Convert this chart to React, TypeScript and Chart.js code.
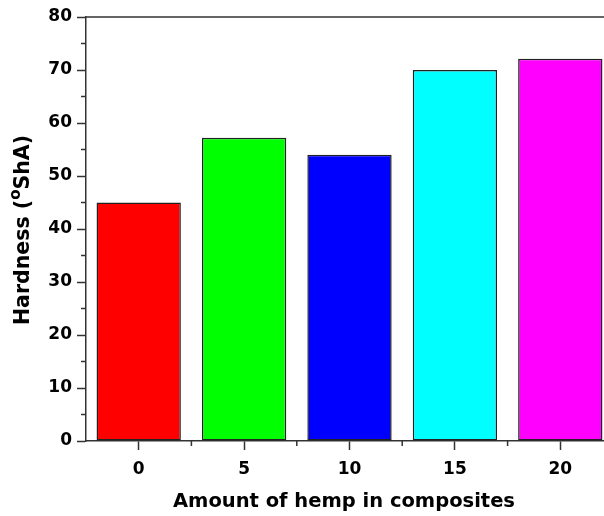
import React, { useEffect, useRef } from "react";
import { Chart, registerables } from "chart.js";

Chart.register(...registerables);

const categories = ["0", "5", "10", "15", "20"];
const hardness = [45, 57.2, 54, 70, 72.1];
const barColors = ["#ff0000", "#00ff00", "#0000ff", "#00ffff", "#ff00ff"];
const yMin = 0;
const yMax = 80;
const yStep = 10;
const xTitle = "Amount of hemp in composites";
const yTitleParts = ["Hardness (", "o", "ShA)"];

const CANVAS_W = 620;
const CANVAS_H = 516;
const AXIS_COLOR = "#333";
const FONT = '"DejaVu Sans", "Liberation Sans", Arial, sans-serif';

// Frame lines, minor ticks and the two axis titles
const decorations = {
  id: "decorations",
  afterDraw(chart: any) {
    const { ctx, chartArea } = chart;
    const { left, right, top, bottom } = chartArea;
    const xs = chart.scales.x;
    const ys = chart.scales.y;
    ctx.save();
    ctx.strokeStyle = AXIS_COLOR;
    ctx.lineWidth = 1.5;

    // top and right frame
    ctx.beginPath();
    ctx.moveTo(left, top);
    ctx.lineTo(right, top);
    ctx.lineTo(right, bottom);
    ctx.stroke();

    // minor ticks on y
    ctx.beginPath();
    for (let v = yMin + yStep / 2; v < yMax; v += yStep) {
      const y = ys.getPixelForValue(v);
      ctx.moveTo(left - 5, y);
      ctx.lineTo(left, y);
    }
    // minor ticks on x, between categories
    for (let i = 0; i < categories.length - 1; i++) {
      const x = (xs.getPixelForValue(i) + xs.getPixelForValue(i + 1)) / 2;
      ctx.moveTo(x, bottom);
      ctx.lineTo(x, bottom + 5);
    }
    ctx.stroke();

    // x title
    ctx.fillStyle = "#000";
    ctx.font = `bold 19.5px ${FONT}`;
    ctx.textAlign = "center";
    ctx.textBaseline = "alphabetic";
    ctx.fillText(xTitle, 344, 507);

    // y title with superscript
    ctx.translate(29, 230);
    ctx.rotate(-Math.PI / 2);
    ctx.textAlign = "left";
    const big = `bold 20.5px ${FONT}`;
    const small = `bold 15px ${FONT}`;
    ctx.font = big;
    const w0 = ctx.measureText(yTitleParts[0]).width;
    const w2 = ctx.measureText(yTitleParts[2]).width;
    ctx.font = small;
    const w1 = ctx.measureText(yTitleParts[1]).width;
    let x = -(w0 + w1 + w2) / 2;
    ctx.font = big;
    ctx.fillText(yTitleParts[0], x, 0);
    x += w0;
    ctx.font = small;
    ctx.fillText(yTitleParts[1], x, -9);
    x += w1;
    ctx.font = big;
    ctx.fillText(yTitleParts[2], x, 0);
    ctx.restore();
  },
};

export default function App() {
  const ref = useRef<HTMLCanvasElement | null>(null);

  useEffect(() => {
    if (!ref.current) return;
    const chart = new Chart(ref.current, {
      type: "bar",
      data: {
        labels: categories,
        datasets: [
          {
            data: hardness,
            backgroundColor: barColors,
            borderColor: "#222",
            borderWidth: 1.5,
            borderSkipped: false,
            categoryPercentage: 1,
            barPercentage: 0.8,
          },
        ],
      },
      options: {
        animation: false,
        responsive: false,
        devicePixelRatio: 1,
        layout: { padding: { top: 17, right: 7, left: 0, bottom: 0 } },
        plugins: {
          legend: { display: false },
          tooltip: { enabled: false },
        },
        scales: {
          x: {
            offset: true,
            grid: {
              offset: false,
              drawOnChartArea: false,
              drawTicks: true,
              tickLength: 9,
              tickWidth: 1.5,
              tickColor: AXIS_COLOR,
            },
            border: { display: true, color: AXIS_COLOR, width: 1.5 },
            ticks: {
              color: "#000",
              font: { family: FONT, size: 17, weight: "bold" },
              padding: 9,
              maxRotation: 0,
            },
            afterFit(scale: any) {
              scale.height = 75;
            },
          },
          y: {
            min: yMin,
            max: yMax,
            grid: {
              drawOnChartArea: false,
              drawTicks: true,
              tickLength: 9,
              tickWidth: 1.5,
              tickColor: AXIS_COLOR,
            },
            border: { display: true, color: AXIS_COLOR, width: 1.5 },
            ticks: {
              stepSize: yStep,
              color: "#000",
              font: { family: FONT, size: 17, weight: "bold" },
              padding: 5,
            },
            afterFit(scale: any) {
              scale.width = 86;
            },
          },
        },
      },
      plugins: [decorations],
    });
    return () => chart.destroy();
  }, []);

  return (
    <div
      style={{
        position: "fixed",
        left: 0,
        top: 0,
        width: 604,
        height: 516,
        overflow: "hidden",
        background: "#fff",
      }}
    >
      <canvas
        ref={ref}
        width={CANVAS_W}
        height={CANVAS_H}
        style={{ width: CANVAS_W, height: CANVAS_H, display: "block" }}
      />
    </div>
  );
}
